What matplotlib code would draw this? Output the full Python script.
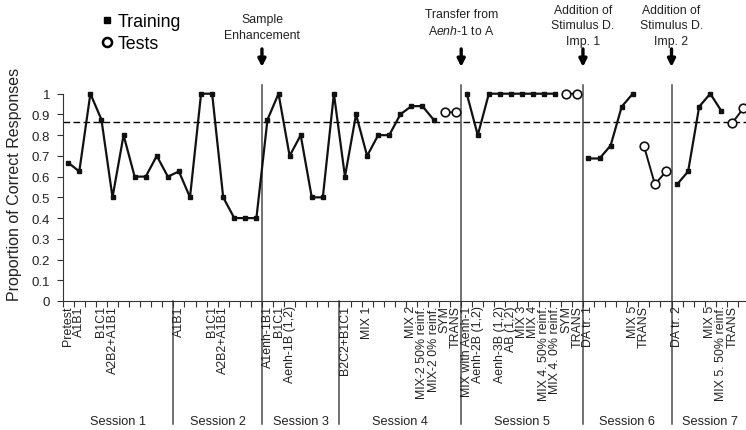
import numpy as np
import matplotlib
matplotlib.use("Agg")
import matplotlib.pyplot as plt
from matplotlib.lines import Line2D

plt.rcParams["font.family"] = ["Liberation Sans", "DejaVu Sans"]
plt.rcParams["mathtext.fontset"] = "custom"
plt.rcParams["mathtext.rm"] = "Liberation Sans"
plt.rcParams["mathtext.it"] = "Liberation Sans:italic"

# --- data -------------------------------------------------------------------
SESSIONS = ["Session 1", "Session 2", "Session 3", "Session 4",
            "Session 5", "Session 6", "Session 7"]
SESSION_SIZES = [10, 8, 7, 11, 11, 8, 7]

CATEGORIES = [
    # session 1
    "Pretest", "A1B1", "", "B1C1", "A2B2+A1B1", "", "", "", "", "",
    # session 2
    "A1B1", "", "", "B1C1", "A2B2+A1B1", "", "", "",
    # session 3
    "A1enh-1B1", "B1C1", "Aenh-1B (1,2)", "", "", "", "",
    # session 4
    "B2C2+B1C1", "", "MIX 1", "", "", "", "MIX 2", "MIX-2 50% reinf.",
    "MIX-2 0% reinf.", "SYM", "TRANS",
    # session 5
    "MIX with Aenh-1", "Aenh-2B (1,2)", "", "Aenh-3B (1,2)", "AB (1,2)",
    "MIX 3", "MIX 4", "MIX 4. 50% reinf.", "MIX 4. 0% reinf.", "SYM", "TRANS",
    # session 6
    "DA tr. 1", "", "", "", "MIX 5", "TRANS", "", "",
    # session 7
    "DA tr. 2", "", "", "MIX 5", "MIX 5. 50% reinf.", "TRANS", "",
]

TRAINING = [
    # session 1
    0.667, 0.625, 1.0, 0.875, 0.5, 0.8, 0.6, 0.6, 0.7, 0.6,
    # session 2
    0.625, 0.5, 1.0, 1.0, 0.5, 0.4, 0.4, 0.4,
    # session 3
    0.875, 1.0, 0.7, 0.8, 0.5, 0.5, 1.0,
    # session 4
    0.6, 0.9, 0.7, 0.8, 0.8, 0.9, 0.94, 0.94, 0.875, None, None,
    # session 5
    1.0, 0.8, 1.0, 1.0, 1.0, 1.0, 1.0, 1.0, 1.0, None, None,
    # session 6
    0.6875, 0.6875, 0.75, 0.9375, 1.0, None, None, None,
    # session 7
    0.5625, 0.625, 0.9375, 1.0, 0.917, None, None,
]

TESTS = [
    # session 1
    None, None, None, None, None, None, None, None, None, None,
    # session 2
    None, None, None, None, None, None, None, None,
    # session 3
    None, None, None, None, None, None, None,
    # session 4
    None, None, None, None, None, None, None, None, None, 0.91, 0.91,
    # session 5
    None, None, None, None, None, None, None, None, None, 1.0, 1.0,
    # session 6
    None, None, None, None, None, 0.75, 0.5625, 0.625,
    # session 7
    None, None, None, None, None, 0.86, 0.93,
]

CRITERION = 0.863

# phase changes: session that starts after the arrow, and its caption
EVENT_SESSIONS = [3, 5, 6, 7]
EVENT_TEXTS = [
    "Sample\nEnhancement",
    "Transfer from\nA$\\mathit{enh}$-$\\mathit{1}$ to A",
    "Addition of\nStimulus D.\nImp. 1",
    "Addition of\nStimulus D.\nImp. 2",
]

YTICKS = [0, 0.1, 0.2, 0.3, 0.4, 0.5, 0.6, 0.7, 0.8, 0.9, 1]

# --- figure -----------------------------------------------------------------
W, H = 746, 431
fig = plt.figure(figsize=(W / 100, H / 100), dpi=100)
ax = fig.add_axes([62.7 / W, 129 / H, 686.3 / W, 207.3 / H])

x = np.arange(len(CATEGORIES))
train = np.array([np.nan if v is None else v for v in TRAINING])
tests = np.array([np.nan if v is None else v for v in TESTS])

ax.set_xlim(-0.5, len(CATEGORIES) - 0.5)
ax.set_ylim(0, 1)

# session dividers (below the axis for all, through the plot at phase changes)
bounds = np.cumsum(SESSION_SIZES) - 0.5
starts = np.concatenate([[-0.5], bounds[:-1]])
div_col = "#4a4a4a"
for i, b in enumerate(bounds[:-1]):
    top = 1.042 if (i + 2) in EVENT_SESSIONS else 0
    ax.plot([b, b], [-0.595, top], color=div_col, lw=1.1, clip_on=False,
            zorder=1)

# event arrows and captions
text_bottoms = [1.255, 1.274, 1.226, 1.226]
for s, txt, yb in zip(EVENT_SESSIONS, EVENT_TEXTS, text_bottoms):
    bx = bounds[s - 2]
    ax.annotate("", xy=(bx, 1.129), xytext=(bx, 1.216),
                arrowprops=dict(arrowstyle="-|>", color="black", lw=2.4,
                                mutation_scale=11, shrinkA=0, shrinkB=0),
                annotation_clip=False)
    ax.text(bx, yb, txt, ha="center", va="bottom", fontsize=8.8,
            color="#222222", linespacing=1.4, clip_on=False)

ax.axhline(CRITERION, color="black", lw=1.0, dashes=(4.8, 2.4), zorder=2)

ax.plot(x, train, color="#111111", lw=1.6, marker="s", ms=3.3,
        mfc="#111111", mec="#111111", clip_on=False, zorder=3)
ax.plot(x, tests, color="#111111", lw=1.4, marker="o", ms=6.2,
        mfc="white", mec="#111111", mew=1.2, clip_on=False, zorder=4)

# session names
for name, a, b in zip(SESSIONS, starts, bounds):
    ax.text((a + b) / 2, -0.58, name, ha="center", va="center",
            fontsize=9.2, color="#222222")

# axes styling
for side in ["top", "right"]:
    ax.spines[side].set_visible(False)
ax.spines["left"].set_bounds(0, 1)
ax.spines["left"].set_color("#333333")
ax.spines["bottom"].set_color("#333333")

ax.set_yticks(YTICKS)
ax.set_yticklabels([f"{v:g}" for v in YTICKS])
ax.tick_params(axis="y", direction="out", length=4, width=0.8, pad=5,
               labelsize=9.5, labelcolor="#222222", color="#333333")

ax.set_xticks(np.arange(-0.5, len(CATEGORIES), 1))
ax.set_xticklabels([])
ax.tick_params(axis="x", which="major", direction="out", length=4,
               width=0.8, color="#333333")
ax.set_xticks(x, minor=True)
ax.set_xticklabels(CATEGORIES, minor=True, rotation=90, fontsize=8.9,
                   color="#222222")
ax.tick_params(axis="x", which="minor", length=0, pad=3)

ax.set_ylabel("Proportion of Correct Responses", fontsize=11.5,
              color="#222222")
ax.yaxis.set_label_coords(-(62.7 - 22) / 686.3, 0.565)

handles = [
    Line2D([], [], ls="none", marker="s", ms=4, color="black"),
    Line2D([], [], ls="none", marker="o", ms=6.5, mfc="white",
           mec="black", mew=1.8),
]
ax.legend(handles, ["Training", "Tests"], loc="upper left",
          bbox_to_anchor=(101 / W, 1 - 14 / H), bbox_transform=fig.transFigure,
          frameon=False, fontsize=12.8, handlelength=0.7, handletextpad=0.25,
          labelspacing=0.3, borderpad=0, borderaxespad=0)

fig.savefig("out.png", dpi=100)
